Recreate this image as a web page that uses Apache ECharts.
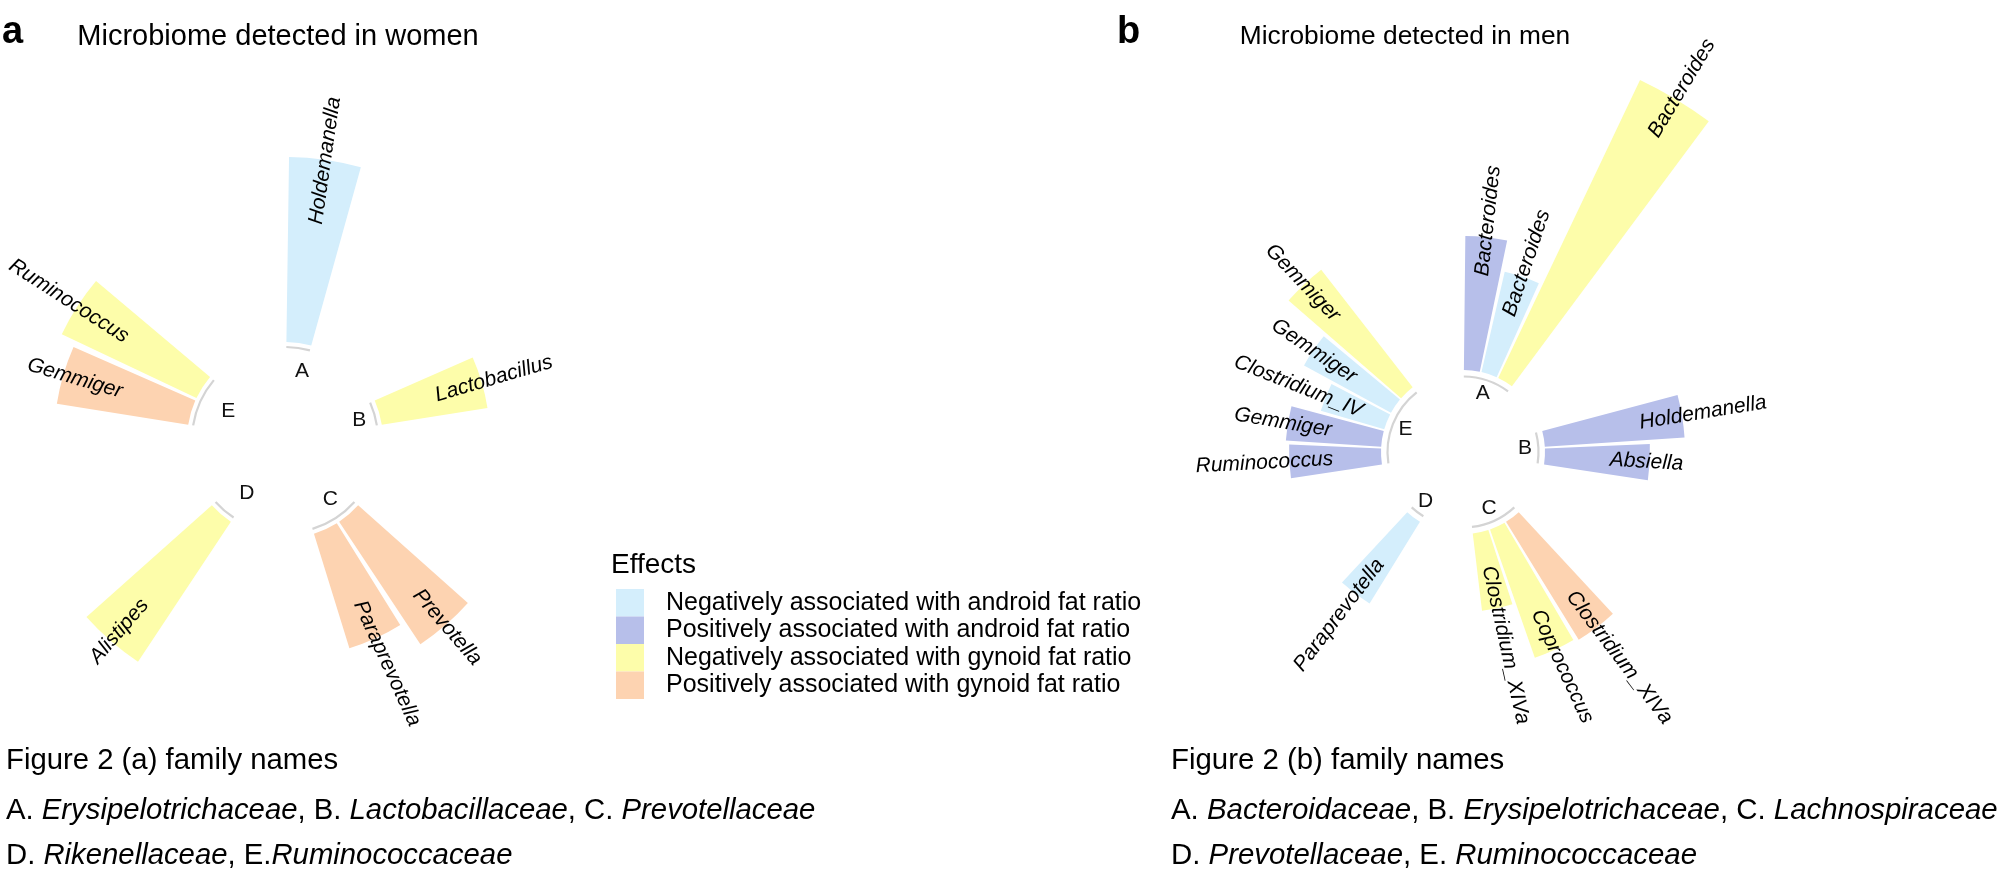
<!DOCTYPE html>
<html><head><meta charset="utf-8">
<script src="https://cdn.jsdelivr.net/npm/echarts@6/dist/echarts.min.js"></script>
<style>html,body{margin:0;padding:0;background:#fff}#c{width:2004px;height:872px}</style>
</head><body><div id="c"></div>
<script>
// ---------------- data ----------------
const effectNames = [
  'Negatively associated with android fat ratio',
  'Positively associated with android fat ratio',
  'Negatively associated with gynoid fat ratio',
  'Positively associated with gynoid fat ratio'
];
const familyLetters = ['A', 'B', 'C', 'D', 'E'];

// Women (panel a)
const womenGenus  = ['Holdemanella', 'Lactobacillus', 'Prevotella', 'Paraprevotella', 'Alistipes', 'Gemmiger', 'Ruminococcus'];
const womenFamily = ['A', 'B', 'C', 'C', 'D', 'E', 'E'];
const womenEffect = [0, 2, 3, 3, 2, 3, 2];
const womenValue  = [1.85, 1.07, 1.47, 1.20, 1.68, 1.33, 1.49];

// Men (panel b)
const menGenus  = ['Bacteroides', 'Bacteroides', 'Bacteroides', 'Holdemanella', 'Absiella',
                   'Clostridium_XIVa', 'Coprococcus', 'Clostridium_XIVa', 'Paraprevotella',
                   'Ruminococcus', 'Gemmiger', 'Clostridium_IV', 'Gemmiger', 'Gemmiger'];
const menFamily = ['A', 'A', 'A', 'B', 'B', 'C', 'C', 'C', 'D', 'E', 'E', 'E', 'E', 'E'];
const menEffect = [1, 0, 2, 1, 1, 3, 2, 2, 0, 1, 1, 0, 0, 2];
const menValue  = [1.34, 1.03, 3.30, 1.40, 1.05, 1.385, 1.36, 0.78, 0.96, 0.92, 0.955, 0.66, 0.99, 1.49];

// Texts
const titleWomen = 'Microbiome detected in women';
const titleMen = 'Microbiome detected in men';
const legendTitle = 'Effects';
const captionWomen = [
  'Figure 2 (a) family names',
  'A. {i|Erysipelotrichaceae}, B. {i|Lactobacillaceae}, C. {i|Prevotellaceae}',
  'D. {i|Rikenellaceae}, E.{i|Ruminococcaceae}'
];
const captionMen = [
  'Figure 2 (b) family names',
  'A. {i|Bacteroidaceae}, B. {i|Erysipelotrichaceae}, C. {i|Lachnospiraceae}',
  'D. {i|Prevotellaceae}, E. {i|Ruminococcaceae}'
];

// ---------------- style / layout ----------------
const COLORS = ['#D4EEFC', '#B7BFEA', '#FDFDAA', '#FDD3B1'];
const FONT = "'Liberation Sans', Arial, Helvetica, sans-serif";
const EMPTY_SLOTS = 3;
// per-label radial nudges of the genus text (layout only, in axis units)
const womenLabelNudge = [0.12, -0.05, -0.09, -0.13, -0.01, 0.08, 0.06];
const menLabelNudge   = [-0.04, -0.02, 0, 0, -0.03, 0, 0, 0, -0.02, 0.01, 0.01, -0.04, 0.07, 0.04];

const panels = [
  { genus: womenGenus, family: womenFamily, effect: womenEffect, value: womenValue, nudge: womenLabelNudge,
    center: [285, 440], radius: 298, rMin: -0.98, rMax: 2.0,
    labelOff: 0.53, arcR: -0.05, letterR: -0.28, letterAlign: 'left' },
  { genus: menGenus, family: menFamily, effect: menEffect, value: menValue, nudge: menLabelNudge,
    center: [1463, 452], radius: 502, rMin: -0.82, rMax: 4.2,
    labelOff: 0.43, arcR: -0.065, letterR: -0.2, letterAlign: 'center' }
];

function buildSlots(p) {
  const slots = [];
  const spans = [];
  familyLetters.forEach(function (f) {
    const first = slots.length;
    p.genus.forEach(function (g, i) {
      if (p.family[i] === f) slots.push({ g: g, e: p.effect[i], v: p.value[i], f: f, nd: p.nudge[i] });
    });
    const last = slots.length - 1;
    spans.push({ f: f, first: first, last: last });
    for (let j = 0; j < EMPTY_SLOTS; j++) slots.push(null);
  });
  return { slots: slots, spans: spans };
}

const hiddenAxis = {
  axisLine: { show: false }, axisTick: { show: false }, axisLabel: { show: false },
  splitLine: { show: false }, splitArea: { show: false }
};

const option = {
  animation: false,
  backgroundColor: '#fff',
  polar: [], angleAxis: [], radiusAxis: [], series: [],
  legend: {
    orient: 'vertical', left: 611, top: 584,
    itemWidth: 28, itemHeight: 27.5, itemGap: 0, icon: 'rect',
    selectedMode: false,
    data: effectNames,
    textStyle: { fontFamily: FONT, fontSize: 25, color: '#000', lineHeight: 27.5, padding: [0, 0, 0, 17] }
  },
  graphic: { elements: [] }
};

panels.forEach(function (p, pi) {
  const b = buildSlots(p);
  const n = b.slots.length;
  const mainIdx = pi * 2, ovIdx = pi * 2 + 1;
  option.polar.push({ center: p.center, radius: [0, p.radius] });
  option.polar.push({ center: p.center, radius: [0, p.radius] });
  option.angleAxis.push(Object.assign({ polarIndex: mainIdx, type: 'category',
    data: b.slots.map(function (s, k) { return 's' + k; }),
    startAngle: 90, clockwise: true, boundaryGap: true }, hiddenAxis));
  option.angleAxis.push(Object.assign({ polarIndex: ovIdx, type: 'value', min: 0, max: n,
    startAngle: 90, clockwise: true }, hiddenAxis));
  option.radiusAxis.push(Object.assign({ polarIndex: mainIdx, type: 'value', min: p.rMin, max: p.rMax }, hiddenAxis));
  option.radiusAxis.push(Object.assign({ polarIndex: ovIdx, type: 'value', min: p.rMin, max: p.rMax }, hiddenAxis));

  // bars
  option.series.push({
    type: 'bar', coordinateSystem: 'polar', polarIndex: mainIdx, silent: true, z: 2,
    barCategoryGap: '10%',
    data: b.slots.map(function (s) {
      return s ? { value: s.v, itemStyle: { color: COLORS[s.e] } } : '-';
    })
  });

  // family baseline arcs
  option.series.push({
    type: 'custom', coordinateSystem: 'polar', polarIndex: ovIdx, silent: true, z: 3,
    data: b.spans.map(function (sp) { return [p.arcR, sp.first + 0.05, sp.last + 0.95]; }),
    renderItem: function (params, api) {
      const cs = params.coordSys;
      const r = api.value(0);
      const p1 = api.coord([r, api.value(1)]);
      const p2 = api.coord([r, api.value(2)]);
      const rad = Math.hypot(p1[0] - cs.cx, p1[1] - cs.cy);
      return {
        type: 'arc',
        shape: { cx: cs.cx, cy: cs.cy, r: rad,
          startAngle: Math.atan2(p1[1] - cs.cy, p1[0] - cs.cx),
          endAngle: Math.atan2(p2[1] - cs.cy, p2[0] - cs.cx), clockwise: true },
        style: { stroke: '#d4d4d4', lineWidth: 2.2, fill: null }
      };
    }
  });

  // family letters
  option.series.push({
    type: 'custom', coordinateSystem: 'polar', polarIndex: ovIdx, silent: true, z: 10,
    data: b.spans.map(function (sp) { return [p.letterR, (sp.first + sp.last + 1) / 2]; }),
    renderItem: function (params, api) {
      const pt = api.coord([api.value(0), api.value(1)]);
      return {
        type: 'text', x: pt[0], y: pt[1], z2: 10,
        style: { text: b.spans[params.dataIndex].f, font: '21px ' + FONT, fill: '#111',
          textAlign: p.letterAlign, textVerticalAlign: 'middle', align: p.letterAlign, verticalAlign: 'middle' }
      };
    }
  });

  // genus labels
  const lab = [];
  b.slots.forEach(function (s, k) { if (s) lab.push({ s: s, k: k }); });
  option.series.push({
    type: 'custom', coordinateSystem: 'polar', polarIndex: ovIdx, silent: true, z: 10,
    data: lab.map(function (d) { return [d.s.v - p.labelOff - d.s.nd, d.k + 0.5]; }),
    renderItem: function (params, api) {
      const cs = params.coordSys;
      const pt = api.coord([api.value(0), api.value(1)]);
      let theta = Math.atan2(pt[0] - cs.cx, -(pt[1] - cs.cy)) * 180 / Math.PI;
      if (theta < 0) theta += 360;
      const right = theta < 180;
      const rot = (right ? 90 - theta : 270 - theta) * Math.PI / 180;
      const al = right ? 'left' : 'right';
      return {
        type: 'text', x: pt[0], y: pt[1], rotation: rot, z2: 10,
        style: { text: lab[params.dataIndex].s.g, font: 'italic 21px ' + FONT, fill: '#000',
          textAlign: al, align: al, textVerticalAlign: 'middle', verticalAlign: 'middle' }
      };
    }
  });
});

// legend carriers
effectNames.forEach(function (name, i) {
  option.series.push({
    type: 'custom', name: name, coordinateSystem: 'none', data: [],
    itemStyle: { color: COLORS[i] }, renderItem: function () { return null; }
  });
});

// texts
function txt(x, y, text, font, align, rich) {
  const st = { text: text, font: font, fill: '#000', textAlign: align || 'left', align: align || 'left',
    textVerticalAlign: 'middle', verticalAlign: 'middle' };
  if (rich) st.rich = rich;
  return { type: 'text', x: x, y: y, silent: true, style: st };
}
function richItalic(size) { return { i: { fontStyle: 'italic', fontSize: size, fontFamily: FONT, color: '#000' } }; }
const G = option.graphic.elements;
G.push(txt(2, 33, 'a', 'bold 38px ' + FONT));
G.push(txt(1117, 33, 'b', 'bold 38px ' + FONT));
G.push(txt(278, 37, titleWomen, '29px ' + FONT, 'center'));
G.push(txt(1405, 37, titleMen, '26.3px ' + FONT, 'center'));
G.push(txt(611, 565, legendTitle, '28px ' + FONT));
const capY = [761, 811, 856];
captionWomen.forEach(function (t, i) { G.push(txt(6, capY[i], t, '29.3px ' + FONT, 'left', richItalic(29.3))); });
captionMen.forEach(function (t, i) { G.push(txt(1171, capY[i], t, '29.4px ' + FONT, 'left', richItalic(29.4))); });

const chart = echarts.init(document.getElementById('c'), null, { renderer: 'canvas' });
chart.setOption(option);
</script>
</body></html>
